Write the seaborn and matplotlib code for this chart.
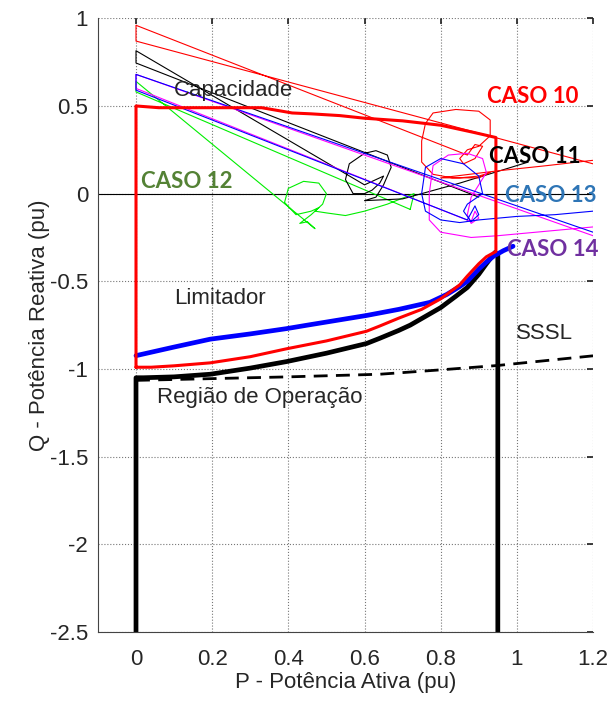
import matplotlib
matplotlib.use("Agg")
import matplotlib.pyplot as plt
import seaborn as sns
import numpy as np

# thick boundaries
op_P = [0.0, 0.0, 0.02, 0.1, 0.195, 0.3, 0.395, 0.5, 0.605, 0.64, 0.69, 0.72, 0.76, 0.80, 0.84, 0.87, 0.90, 0.92, 0.943, 0.95, 0.95]
op_Q = [-2.5, -1.05, -1.05, -1.045, -1.03, -0.995, -0.958, -0.91, -0.855, -0.825, -0.78, -0.75, -0.70, -0.65, -0.585, -0.535, -0.46, -0.40, -0.335, -0.35, -2.5]

lim_P = [0.0, 0.0, 0.06, 0.33, 0.41, 0.46, 0.535, 0.60, 0.70, 0.80, 0.885, 0.945, 0.945, 0.92, 0.90, 0.87, 0.85, 0.80, 0.75, 0.69, 0.64, 0.605, 0.5, 0.395, 0.3, 0.195, 0.1, 0.04, 0.0]
lim_Q = [-0.99, 0.50, 0.49, 0.49, 0.46, 0.455, 0.445, 0.43, 0.415, 0.39, 0.35, 0.32, -0.33, -0.36, -0.40, -0.47, -0.52, -0.60, -0.66, -0.71, -0.755, -0.785, -0.84, -0.885, -0.93, -0.965, -0.982, -0.99, -0.99]

b14_P = [0.0, 0.1, 0.195, 0.3, 0.395, 0.45, 0.605, 0.69, 0.772, 0.816, 0.85, 0.87, 0.90, 0.92, 0.94, 0.965, 0.99]
b14_Q = [-0.924, -0.875, -0.83, -0.80, -0.77, -0.75, -0.695, -0.66, -0.62, -0.575, -0.53, -0.50, -0.43, -0.39, -0.355, -0.325, -0.30]

sssl_P = [0.0, 0.2, 0.4, 0.64, 0.8, 0.95, 1.2]
sssl_Q = [-1.065, -1.055, -1.045, -1.03, -1.005, -0.98, -0.925]

# trajectories
c10_P = [1.2, 0.0, 0.0, 0.87, 0.89, 0.91, 0.89, 0.86, 0.85, 0.87, 0.90, 0.93, 0.93, 0.90, 0.84, 0.78, 0.76, 0.75, 0.75, 0.78, 0.83, 0.90, 0.93, 0.90, 0.85, 0.80, 0.95, 1.08, 1.2]
c10_Q = [0.17, 0.87, 0.96, 0.22, 0.28, 0.27, 0.20, 0.17, 0.20, 0.25, 0.27, 0.33, 0.42, 0.47, 0.48, 0.46, 0.40, 0.30, 0.18, 0.11, 0.09, 0.09, 0.12, 0.10, 0.09, 0.09, 0.13, 0.16, 0.19]

c11_P = [0.90, 0.0, 0.0, 0.60, 0.63, 0.65, 0.64, 0.62, 0.60, 0.57, 0.55, 0.56, 0.60, 0.63, 0.66, 0.67, 0.65, 0.63, 0.60, 0.70, 0.85, 1.03]
c11_Q = [-0.02, 0.745, 0.815, 0.05, 0.08, 0.10, 0.06, 0.02, 0.0, 0.0, 0.08, 0.17, 0.23, 0.245, 0.22, 0.15, 0.05, -0.02, -0.04, -0.03, 0.06, 0.18]

c12_P = [0.72, 0.0, 0.0, 0.47, 0.45, 0.43, 0.46, 0.48, 0.46, 0.42, 0.39, 0.40, 0.44, 0.48, 0.50, 0.49, 0.47, 0.50, 0.55, 0.60, 0.66, 0.73, 0.72]
c12_Q = [-0.09, 0.58, 0.64, -0.20, -0.16, -0.17, -0.12, -0.08, -0.10, -0.12, -0.05, 0.03, 0.07, 0.06, 0.0, -0.06, -0.10, -0.11, -0.125, -0.10, -0.06, 0.0, -0.09]

c13_P = [1.2, 0.0, 0.0, 0.87, 0.89, 0.90, 0.88, 0.86, 0.87, 0.91, 0.90, 0.86, 0.80, 0.76, 0.75, 0.76, 0.80, 0.85, 0.90, 1.0, 1.1, 1.2]
c13_Q = [-0.22, 0.68, 0.59, -0.15, -0.07, -0.12, -0.16, -0.10, -0.06, 0.0, 0.10, 0.17, 0.20, 0.15, 0.0, -0.10, -0.15, -0.165, -0.15, -0.13, -0.12, -0.10]

c14_P = [1.2, 0.0, 0.0, 0.88, 0.89, 0.90, 0.88, 0.87, 0.88, 0.90, 0.92, 0.91, 0.87, 0.82, 0.78, 0.77, 0.77, 0.80, 0.88, 0.95, 1.05, 1.2]
c14_Q = [-0.24, 0.68, 0.60, -0.16, -0.10, -0.14, -0.17, -0.12, -0.02, 0.05, 0.12, 0.20, 0.23, 0.22, 0.16, 0.0, -0.15, -0.22, -0.25, -0.24, -0.22, -0.19]

labels = ["CASO 10", "CASO 11", "CASO 12", "CASO 13", "CASO 14"]
label_P = [0.922, 0.927, 0.013, 0.969, 0.974]
label_Q = [0.553, 0.21, 0.068, -0.01, -0.32]
label_colors = ["#ff0000", "#000000", "#548235", "#2e75b6", "#7030a0"]

sns.set_theme(style="white")
plt.rcParams['font.family'] = ['Liberation Sans', 'DejaVu Sans']

fig = plt.figure(figsize=(6.12, 7.03), dpi=100)
ax = fig.add_axes([0.160, 0.101, 0.809, 0.873])

ax.axhline(0, color="black", lw=0.8, zorder=1)
sns.lineplot(x=c12_P, y=c12_Q, sort=False, estimator=None, color="#00ee00", lw=0.8, ax=ax)
sns.lineplot(x=c11_P, y=c11_Q, sort=False, estimator=None, color="black", lw=0.8, ax=ax)
sns.lineplot(x=c10_P, y=c10_Q, sort=False, estimator=None, color="#ff0000", lw=0.8, ax=ax)
sns.lineplot(x=c14_P, y=c14_Q, sort=False, estimator=None, color="#ff00ff", lw=0.8, ax=ax)
sns.lineplot(x=c13_P, y=c13_Q, sort=False, estimator=None, color="#0000ff", lw=0.8, ax=ax)

sns.lineplot(x=sssl_P, y=sssl_Q, sort=False, estimator=None, color="black", lw=2.0, ls=(0, (5, 3)), ax=ax)
sns.lineplot(x=op_P, y=op_Q, sort=False, estimator=None, color="black", lw=3.4, ax=ax)
sns.lineplot(x=b14_P, y=b14_Q, sort=False, estimator=None, color="#0000ff", lw=3.4, ax=ax)
sns.lineplot(x=lim_P, y=lim_Q, sort=False, estimator=None, color="#ff0000", lw=2.2, ax=ax)

fs = 16
ax.text(0.10, 0.587, "Capacidade", fontsize=fs, va="center")
ax.text(0.10, -0.60, "Limitador", fontsize=fs, va="center")
ax.text(0.055, -1.16, "Região de Operação", fontsize=fs, va="center")
ax.text(0.998, -0.80, "SSSL", fontsize=fs, va="center")
for t, px, qy, c in zip(labels, label_P, label_Q, label_colors):
    ax.text(px, qy, t, fontsize=16, fontweight="bold", color=c, va="center", family=["Lato", "DejaVu Sans"])

ax.set_xlim(-0.1, 1.2)
ax.set_ylim(-2.5, 1)
ax.set_xticks([0, 0.2, 0.4, 0.6, 0.8, 1, 1.2])
ax.set_xticklabels(["0", "0.2", "0.4", "0.6", "0.8", "1", "1.2"])
ax.set_yticks([-2.5, -2, -1.5, -1, -0.5, 0, 0.5, 1])
ax.set_yticklabels(["-2.5", "-2", "-1.5", "-1", "-0.5", "0", "0.5", "1"])
ax.grid(True, color="#777777", ls=":", lw=0.8)
ax.tick_params(direction="in", length=4, top=True, right=True, labelsize=fs)
ax.tick_params(axis="x", pad=12)
ax.tick_params(axis="y", pad=7)
for s in ["top", "right"]:
    ax.spines[s].set_visible(False)
for s in ["left", "bottom"]:
    ax.spines[s].set_color("#444444")
    ax.spines[s].set_linewidth(0.8)
ax.set_xlabel("P - Potência Ativa (pu)", fontsize=fs, labelpad=2)
ax.set_ylabel("Q - Potência Reativa (pu)", fontsize=fs, labelpad=0)

fig.savefig("out.png", dpi=100)
